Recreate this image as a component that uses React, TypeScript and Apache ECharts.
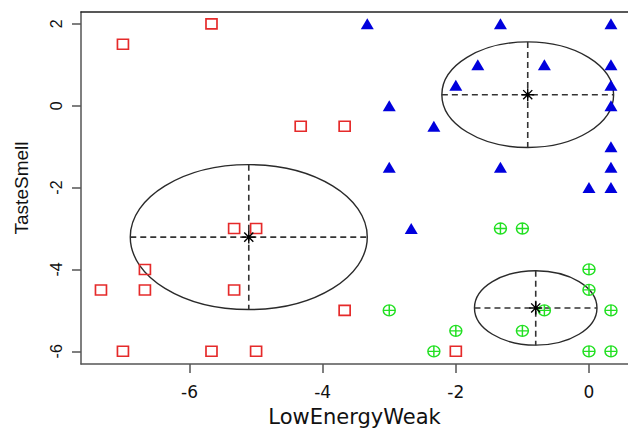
import React, { useEffect, useRef } from "react";
import * as echarts from "echarts";

// Group 1 (red squares)
const redX = [-7, -5.67, -4.33, -3.67, -6.67, -7.33, -6.67, -7, -5.67, -5.33, -5, -5.33, -3.67, -5, -2];
const redY = [1.5, 2, -0.5, -0.5, -4, -4.5, -4.5, -6, -6, -3, -3, -4.5, -5, -6, -6];
// Group 2 (blue triangles)
const blueX = [-3.33, -1.33, 0.33, -1.67, -0.67, 0.33, -2, 0.33, -3, 0.33, -2.33, 0.33, -3, -1.33, 0.33, 0, 0.33, -2.67];
const blueY = [2, 2, 2, 1, 1, 1, 0.5, 0.5, 0, 0, -0.5, -1, -1.5, -1.5, -1.5, -2, -2, -3];
// Group 3 (green crossed circles)
const greenX = [-1.33, -1, 0, 0, 0.33, -0.67, -1, -2, -2.33, 0, 0.33, -3];
const greenY = [-3, -3, -4, -4.5, -5, -5, -5.5, -5.5, -6, -6, -6, -5];
// Cluster centres and ellipse radii (data units)
const centerX = [-5.11, -0.92, -0.8];
const centerY = [-3.21, 0.27, -4.94];
const radiusX = [1.78, 1.29, 0.92];
const radiusY = [1.77, 1.29, 0.91];
// Axis ticks
const xTicks = [-6, -4, -2, 0];
const yTicks = [-6, -4, -2, 0, 2];
const xRange = [-7.63, 0.586];
const yRange = [-6.31, 2.29];

const zip = (xs: number[], ys: number[]) => xs.map((x, i) => [x, ys[i]]);

const crossCircle =
  "path://M0,10 A10,10 0 1,1 20,10 A10,10 0 1,1 0,10 Z M10,0 L10,20 M0,10 L20,10";
const asterisk =
  "path://M0,10 L20,10 M10,0 L10,20 M3,3 L17,17 M17,3 L3,17";

export default function App() {
  const ref = useRef<HTMLDivElement>(null);
  useEffect(() => {
    if (!ref.current) return;
    const chart = echarts.init(ref.current, null, { renderer: "svg" });
    const ellipseData = centerX.map((cx, i) => [cx, centerY[i], radiusX[i], radiusY[i]]);
    chart.setOption({
      animation: false,
      backgroundColor: "#ffffff",
      grid: { left: 81, right: 0, top: 12, bottom: 67 },
      xAxis: [
        {
          type: "value",
          min: xRange[0],
          max: xRange[1],
          name: "LowEnergyWeak",
          nameLocation: "middle",
          nameGap: 42,
          nameTextStyle: { fontFamily: "DejaVu Sans", fontSize: 21, color: "#111" },
          axisLine: { show: true, onZero: false, lineStyle: { color: "#555", width: 1.5 } },
          axisTick: { show: true, length: 9, customValues: xTicks, lineStyle: { color: "#555", width: 1.5 } },
          axisLabel: {
            customValues: xTicks,
            margin: 19,
            fontFamily: "DejaVu Sans",
            fontSize: 17,
            color: "#111",
          },
          splitLine: { show: false },
        },
        {
          type: "value",
          position: "top",
          min: xRange[0],
          max: xRange[1],
          axisLine: { show: true, onZero: false, lineStyle: { color: "#222", width: 1.5 } },
          axisTick: { show: false },
          axisLabel: { show: false },
          splitLine: { show: false },
        },
      ],
      yAxis: {
        type: "value",
        min: yRange[0],
        max: yRange[1],
        name: "TasteSmell",
        nameLocation: "middle",
        nameGap: 50,
        nameTextStyle: { fontFamily: "Liberation Sans", fontSize: 19, color: "#111" },
        axisLine: { show: true, onZero: false, lineStyle: { color: "#555", width: 1.5 } },
        axisTick: { show: true, length: 9, customValues: yTicks, lineStyle: { color: "#555", width: 1.5 } },
        axisLabel: {
          customValues: yTicks,
          rotate: 90,
          margin: 17,
          fontFamily: "Liberation Sans",
          fontSize: 16,
          color: "#111",
        },
        splitLine: { show: false },
      },
      series: [
        {
          type: "custom",
          z: 1,
          data: ellipseData,
          encode: { x: 0, y: 1 },
          renderItem: (params: any, api: any) => {
            const c = api.coord([api.value(0), api.value(1)]);
            const s = api.size([api.value(2), api.value(3)]);
            const dashStyle = { stroke: "#333", lineWidth: 1.6, lineDash: [6, 4], fill: "none" };
            return {
              type: "group",
              children: [
                {
                  type: "ellipse",
                  shape: { cx: c[0], cy: c[1], rx: s[0], ry: s[1] },
                  style: { fill: "none", stroke: "#2a2a2a", lineWidth: 1.4 },
                },
                {
                  type: "line",
                  shape: { x1: c[0] - s[0], y1: c[1], x2: c[0] + s[0], y2: c[1] },
                  style: dashStyle,
                },
                {
                  type: "line",
                  shape: { x1: c[0], y1: c[1] - s[1], x2: c[0], y2: c[1] + s[1] },
                  style: dashStyle,
                },
              ],
            };
          },
        },
        {
          type: "scatter",
          z: 3,
          data: zip(redX, redY),
          symbol: "rect",
          symbolSize: [11, 10],
          itemStyle: { color: "rgba(0,0,0,0)", borderColor: "#e52a2a", borderWidth: 1.6, opacity: 1 },
        },
        {
          type: "scatter",
          z: 3,
          data: zip(blueX, blueY),
          symbol: "triangle",
          symbolSize: [13, 11],
          itemStyle: { color: "#0000dd", opacity: 1 },
        },
        {
          type: "scatter",
          z: 3,
          data: zip(greenX, greenY),
          symbol: crossCircle,
          symbolSize: [12, 11],
          itemStyle: { color: "rgba(0,0,0,0)", borderColor: "#22e022", borderWidth: 1.4, opacity: 1 },
        },
        {
          type: "scatter",
          z: 4,
          data: zip(centerX, centerY),
          symbol: asterisk,
          symbolSize: [13, 13],
          itemStyle: { color: "rgba(0,0,0,0)", borderColor: "#000", borderWidth: 1.4, opacity: 1 },
        },
      ],
    });
    return () => chart.dispose();
  }, []);
  return (
    <div
      ref={ref}
      style={{ position: "absolute", left: 0, top: 0, width: 628, height: 432 }}
    />
  );
}
